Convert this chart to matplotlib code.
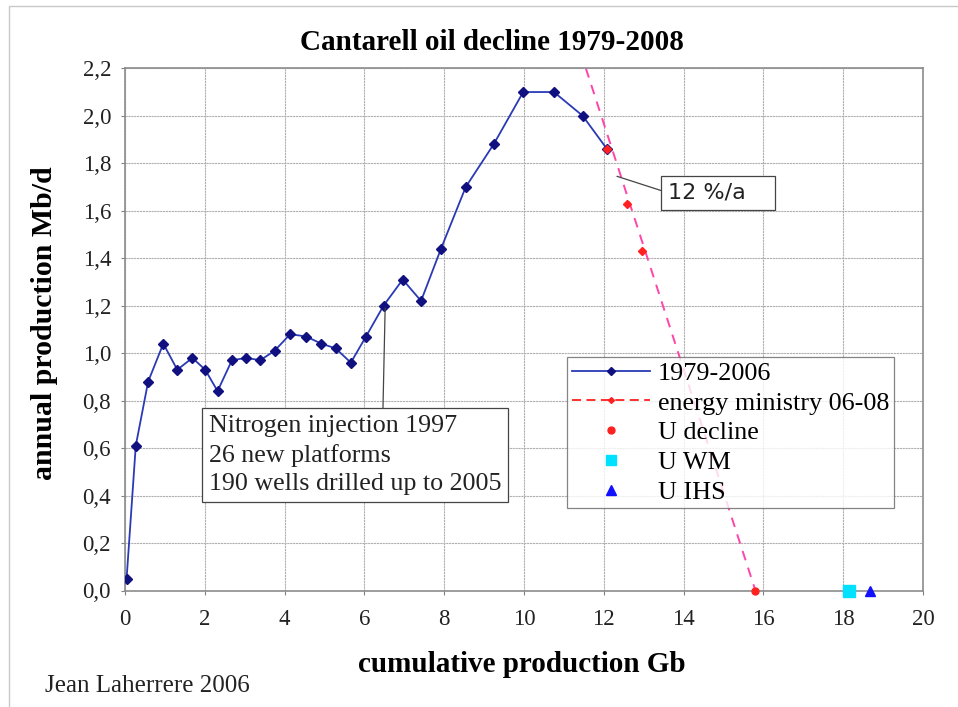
import matplotlib
matplotlib.use("Agg")
import matplotlib.pyplot as plt
from matplotlib.lines import Line2D
from matplotlib.patches import Rectangle

# ---- data ----
cum_prod = [0.04, 0.27, 0.58, 0.96, 1.31, 1.69, 2.01, 2.32, 2.68, 3.04, 3.39, 3.75,
            4.14, 4.54, 4.92, 5.28, 5.66, 6.04, 6.48, 6.96, 7.42, 7.92, 8.54, 9.24,
            9.98, 10.75, 11.47, 12.08]
annual_prod = [0.05, 0.61, 0.88, 1.04, 0.93, 0.98, 0.93, 0.84, 0.97, 0.98, 0.97, 1.01,
               1.08, 1.07, 1.04, 1.02, 0.96, 1.07, 1.20, 1.31, 1.22, 1.44, 1.70, 1.88,
               2.10, 2.10, 2.00, 1.86]
ministry_x = [12.08, 12.58, 12.96]
ministry_y = [1.86, 1.63, 1.43]
trend_x = [11.55, 15.80]
trend_y = [2.20, 0.00]
u_decline_x, u_decline_y = [15.80], [0.0]
u_wm_x, u_wm_y = [18.15], [0.0]
u_ihs_x, u_ihs_y = [18.68], [0.0]

xticks = [0, 2, 4, 6, 8, 10, 12, 14, 16, 18, 20]
yticks = [0.0, 0.2, 0.4, 0.6, 0.8, 1.0, 1.2, 1.4, 1.6, 1.8, 2.0, 2.2]
ytick_labels = [f"{v:.1f}".replace(".", ",") for v in yticks]

serif = "Liberation Serif"

fig = plt.figure(figsize=(9.58, 7.07), dpi=100)
fig.patches.append(Rectangle((9 / 958, -0.1), 1.2, 1 - 6 / 707 + 0.1,
                             transform=fig.transFigure, fill=False,
                             edgecolor="#c8c8c8", linewidth=1.0))
ax = fig.add_axes([125 / 958, 1 - 590.5 / 707, 798 / 958, 522.2 / 707])

ax.set_xlim(0, 20)
ax.set_ylim(0, 2.2)
ax.set_xticks(xticks)
ax.set_xticklabels([str(v) for v in xticks], fontfamily=serif, fontsize=16.5, color="#222222")
ax.set_yticks(yticks)
ax.set_yticklabels(ytick_labels, fontfamily=serif, fontsize=16.5, color="#222222")
ax.tick_params(direction="out", length=3, width=0.8, color="#808080")
ax.tick_params(axis="y", pad=7)
ax.tick_params(axis="x", pad=10)
ax.grid(True, color="#b0b0b0", linewidth=0.8, linestyle=(0, (2, 0.6)))
ax.set_axisbelow(True)
for s in ax.spines.values():
    s.set_color("#8c8c8c")
    s.set_linewidth(1.2)

ax.plot(trend_x, trend_y, color="#ff44aa", linestyle=(0, (5, 4)), linewidth=1.4, zorder=2)
ax.plot(cum_prod, annual_prod, color="#2a3ab5", linewidth=1.3, marker="D",
        markersize=5, markerfacecolor="#101080", markeredgecolor="#101080", zorder=3)
ax.plot(ministry_x, ministry_y, linestyle="none", marker="D", markersize=4,
        color="#ff2020", zorder=4)
ax.plot(u_decline_x, u_decline_y, linestyle="none", marker="o", markersize=5,
        color="#ff2020", zorder=5, clip_on=False)
ax.plot(u_wm_x, u_wm_y, linestyle="none", marker="s", markersize=8,
        color="#00e0ff", zorder=5, clip_on=False)
ax.plot(u_ihs_x, u_ihs_y, linestyle="none", marker="^", markersize=7,
        color="#1010ff", zorder=5, clip_on=False)

handles = [
    Line2D([], [], color="#2a3ab5", linewidth=1.3, marker="D", markersize=4,
           markerfacecolor="#101080", markeredgecolor="#101080"),
    Line2D([], [], color="#ff2020", linewidth=1.3, linestyle=(0, (5, 3)), marker="D",
           markersize=3),
    Line2D([], [], linestyle="none", marker="o", markersize=5, color="#ff2020"),
    Line2D([], [], linestyle="none", marker="s", markersize=7, color="#00e0ff"),
    Line2D([], [], linestyle="none", marker="^", markersize=7, color="#1010ff"),
]
labels = ["1979-2006", "energy ministry 06-08", "U decline", "U WM", "U IHS"]
leg = ax.legend(handles, labels, loc="upper left", bbox_to_anchor=(0.554, 0.447),
                prop={"family": serif, "size": 18.8}, frameon=True, fancybox=False,
                edgecolor="#666666", handlelength=3.0, handletextpad=0.3,
                labelspacing=0.25, borderpad=0.17, borderaxespad=0)
leg.get_frame().set_linewidth(0.9)

ax.annotate("Nitrogen injection 1997\n26 new platforms\n190 wells drilled up to 2005",
            xy=(6.52, 1.19), xytext=(2.1, 0.74), textcoords="data",
            ha="left", va="top", fontfamily=serif, fontsize=18.7, linespacing=1.38,
            color="#222222",
            bbox=dict(boxstyle="square,pad=0.25", facecolor="white",
                      edgecolor="#444444", linewidth=0.9),
            arrowprops=dict(arrowstyle="-", color="#444444", linewidth=0.9,
                            relpos=(0.595, 1.0), shrinkA=0, shrinkB=0))

ax.annotate("12 %/a   ", xy=(12.33, 1.745), xytext=(13.62, 1.675), textcoords="data",
            ha="left", va="center", fontfamily="DejaVu Sans", fontsize=16,
            color="#222222",
            bbox=dict(boxstyle="square,pad=0.32", facecolor="white",
                      edgecolor="#444444", linewidth=0.9),
            arrowprops=dict(arrowstyle="-", color="#444444", linewidth=0.9,
                            relpos=(0.0, 0.5), shrinkA=0, shrinkB=0))

fig.text(492 / 958, 1 - 43 / 707, "Cantarell oil decline 1979-2008", ha="center",
         va="center", fontfamily=serif, fontweight="bold", fontsize=21)
fig.text(522 / 958, 1 - 664 / 707, "cumulative production Gb", ha="center",
         va="center", fontfamily=serif, fontweight="bold", fontsize=21)
fig.text(45 / 958, 1 - 323 / 707, "annual production Mb/d", ha="center",
         va="center", rotation=90, fontfamily=serif, fontweight="bold", fontsize=21.5)
fig.text(45 / 958, 1 - 686 / 707, "Jean Laherrere 2006", ha="left", va="center",
         fontfamily=serif, fontsize=18, color="#222222")

fig.savefig("out.png", dpi=100)
